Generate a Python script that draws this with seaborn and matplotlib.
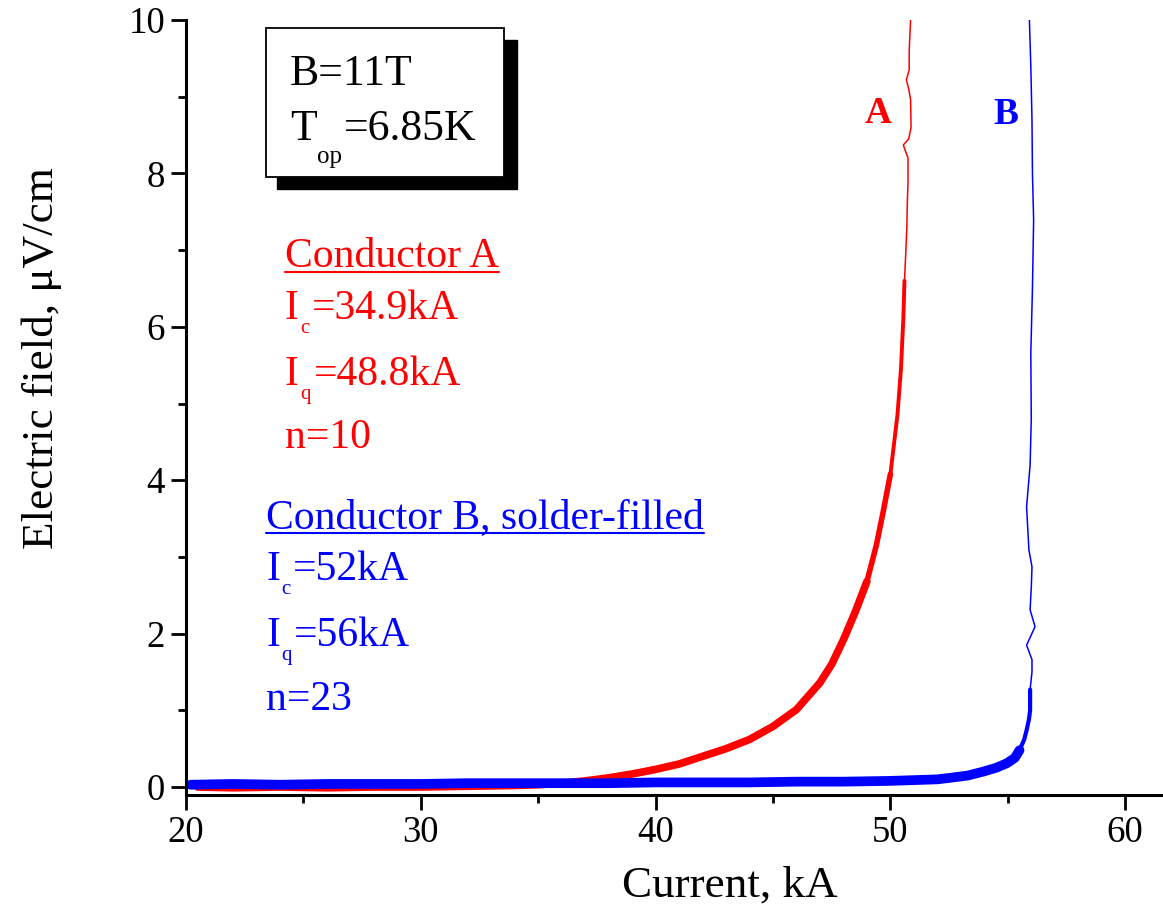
import matplotlib
matplotlib.use("Agg")
import matplotlib.pyplot as plt
from matplotlib.patches import Rectangle
from matplotlib.lines import Line2D
import numpy as np
import pandas as pd
import seaborn as sns

# ---- data: E(I) transitions of the two conductors at B = 11 T ----
current_a = [20.5, 22, 24, 26, 28, 30, 32, 34, 35, 36, 37, 38, 39, 40, 41, 42, 43, 44,
             45, 46, 47, 47.5, 48, 48.5, 49, 49.4, 49.7, 50.0, 50.3, 50.45, 50.55, 50.6,
             50.66, 50.70, 50.72, 50.75, 50.75, 50.55, 50.78, 50.88, 50.86, 50.78, 50.68,
             50.80, 50.80, 50.86]
field_a = [0.00, -0.01, 0.00, -0.01, 0.00, 0.00, 0.01, 0.02, 0.03, 0.05, 0.08, 0.12, 0.17,
           0.23, 0.30, 0.40, 0.50, 0.62, 0.79, 1.01, 1.36, 1.60, 1.92, 2.28, 2.68, 3.15,
           3.60, 4.08, 4.85, 5.45, 6.10, 6.60, 7.00, 7.30, 7.60, 7.90, 8.20, 8.37, 8.45,
           8.60, 8.96, 9.10, 9.22, 9.35, 9.60, 10.0]

current_b = [20.2, 22, 24, 26, 28, 30, 32, 34, 36, 38, 40, 42, 44, 46, 48, 50, 51, 52,
             52.54, 53.3, 53.94, 54.5, 54.96, 55.3, 55.5, 55.7, 55.8, 55.9, 55.95, 55.95,
             56.03, 56.03, 55.8, 56.16, 55.95, 56.0, 56.03, 55.9, 55.8, 55.95, 56.0,
             55.98, 56.05, 56.1, 56.05, 56.03, 55.98, 55.92]
field_b = [0.03, 0.04, 0.03, 0.04, 0.04, 0.04, 0.05, 0.05, 0.05, 0.05, 0.06, 0.06, 0.06,
           0.07, 0.07, 0.08, 0.09, 0.10, 0.12, 0.15, 0.20, 0.25, 0.31, 0.38, 0.48, 0.62,
           0.74, 0.88, 1.00, 1.27, 1.50, 1.66, 1.85, 2.09, 2.31, 2.60, 2.87, 3.09, 3.65,
           4.20, 4.80, 5.66, 6.50, 7.39, 8.00, 8.70, 9.40, 10.0]

x_ticks = [20, 30, 40, 50, 60]
y_ticks = [0, 2, 4, 6, 8, 10]

RED = "#ff0000"
BLUE = "#0000ff"

sns.set_style("ticks")
plt.rcParams["font.family"] = ["Liberation Serif", "DejaVu Serif"]
plt.rcParams["text.color"] = "black"
plt.rcParams["axes.labelcolor"] = "black"
plt.rcParams["xtick.color"] = "black"
plt.rcParams["ytick.color"] = "black"

W, H = 1163, 906
fig = plt.figure(figsize=(W / 100, H / 100), dpi=100)
fig.patch.set_facecolor("white")
renderer = fig.canvas.get_renderer()


def fx(px):
    return px / W


def fy(py):
    return 1 - py / H


ax = fig.add_axes([fx(186), fy(795), (W - 186) / W, (795 - 20) / H])
ax.set_facecolor("white")

df_a = pd.DataFrame({"current": current_a, "field": field_a})
df_b = pd.DataFrame({"current": current_b, "field": field_b})


def trace(df, color, band_limits):
    # thick strokes stand for the noisy low-voltage part of the record
    for limit, lw in band_limits:
        part = df[df["field"] <= limit]
        sns.lineplot(data=part, x="current", y="field", sort=False, estimator=None,
                     color=color, lw=lw, ax=ax, solid_capstyle="round",
                     solid_joinstyle="round")
    sns.lineplot(data=df, x="current", y="field", sort=False, estimator=None,
                 color=color, lw=1.1, ax=ax)


trace(df_a, RED, [(2.7, 5.5), (4.6, 4.0), (6.6, 2.8)])
trace(df_b, BLUE, [(0.5, 7.0), (1.3, 3.0)])

ax.set_xlim(20, 20 + (W - 186) / 23.48)
ax.set_ylim(-0.104, 10)
ax.set_xticks(x_ticks)
ax.set_xticks([25, 35, 45, 55], minor=True)
ax.set_yticks(y_ticks)
ax.set_yticks([1, 3, 5, 7, 9], minor=True)
ax.set_xticklabels([str(v) for v in x_ticks])
ax.set_yticklabels([str(v) for v in y_ticks])
ax.tick_params(which="major", direction="out", length=11, width=2, labelsize=26.5,
               pad=4, color="black", labelcolor="black")
ax.tick_params(which="minor", direction="out", length=5.5, width=2, color="black")
for side in ("top", "right"):
    ax.spines[side].set_visible(False)
for side in ("left", "bottom"):
    ax.spines[side].set_linewidth(2.2)
    ax.spines[side].set_color("black")

ax.set_xlabel("Current, kA", fontsize=32.5, color="black")
ax.xaxis.label.set_va("baseline")
ax.xaxis.set_label_coords((730 - 186) / (W - 186), (795 - 897) / 775)
ax.set_ylabel("Electric field, \u03bcV/cm", fontsize=32.5, color="black")
ax.yaxis.label.set_va("center")
ax.yaxis.set_label_coords((42 - 186) / (W - 186), (795 - 358) / 775)


def label(xpx, ypx, s, size, color="black", **kw):
    return fig.text(fx(xpx), fy(ypx), s, fontsize=size, color=color,
                    va="baseline", ha="left", **kw)


def subscripted(xpx, ypx, base, sub, rest, size, sub_size, drop, color,
                gap_before=1, gap_after=3):
    # base letter, lowered subscript, then the rest of the line
    t1 = label(xpx, ypx, base, size, color, zorder=3)
    x1 = t1.get_window_extent(renderer).x1
    t2 = label(x1 + gap_before, ypx + drop, sub, sub_size, color, zorder=3)
    x2 = t2.get_window_extent(renderer).x1
    label(x2 + gap_after, ypx, rest, size, color, zorder=3)


# parameter box with drop shadow
fig.add_artist(Rectangle((fx(277), fy(189)), (517 - 277) / W, (189 - 40) / H,
                         transform=fig.transFigure, facecolor="black",
                         edgecolor="black", zorder=2))
fig.add_artist(Rectangle((fx(266), fy(177)), (504 - 266) / W, (177 - 28) / H,
                         transform=fig.transFigure, facecolor="white",
                         edgecolor="black", lw=1.3, zorder=2.5))
label(290, 85, "B=11T", 31.5, "black", zorder=3)
subscripted(290, 140, "T", "op", "=6.85K", 31.5, 18, 23, "black", gap_before=0,
            gap_after=2)

# curve tags
fig.text(fx(878), fy(123), "A", fontsize=27, fontweight="bold", color=RED,
         ha="center", va="baseline")
fig.text(fx(1005.5), fy(124), "B", fontsize=27, fontweight="bold", color=BLUE,
         ha="center", va="baseline")

# conductor summaries
underlined = []
t = label(285, 267, "Conductor A", 30, RED)
underlined.append((t, 272, RED))
subscripted(285, 319, "I", "c", "=34.9kA", 30, 15, 14, RED)
subscripted(285, 385, "I", "q", "=48.8kA", 30, 15, 14, RED)
label(285, 448, "n=10", 30, RED)

t = label(266, 528, "Conductor B, solder-filled", 30, BLUE)
underlined.append((t, 533, BLUE))
subscripted(266, 580, "I", "c", "=52kA", 30, 15, 14, BLUE)
subscripted(266, 646, "I", "q", "=56kA", 30, 15, 14, BLUE)
label(266, 710, "n=23", 30, BLUE)

for text, ypx, col in underlined:
    bb = text.get_window_extent(renderer)
    fig.add_artist(Line2D([bb.x0 / W, bb.x1 / W], [fy(ypx), fy(ypx)],
                          transform=fig.transFigure, color=col, lw=1.5))

fig.savefig("out.png", dpi=100, facecolor="white")
